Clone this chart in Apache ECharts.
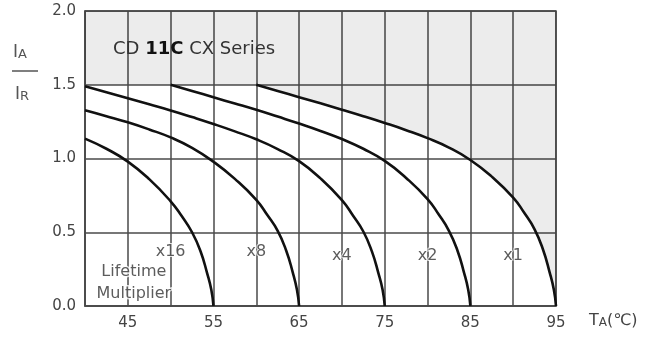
<!DOCTYPE html>
<html>
<head>
<meta charset="utf-8">
<script src="https://cdn.jsdelivr.net/npm/echarts@6/dist/echarts.min.js"></script>
<style>
html,body{margin:0;padding:0;background:#fff;}
#c{width:653px;height:337px;}
</style>
</head>
<body>
<div id="c"></div>
<script>
// ---- data ----
const xTicks = [40, 45, 50, 55, 60, 65, 70, 75, 80, 85, 90, 95];
const xLabelTicks = [45, 55, 65, 75, 85, 95];
const yTicks = [0, 0.5, 1.0, 1.5, 2.0];

const x1X = [60, 62.5, 65, 67.5, 70, 72.5, 75, 77.5, 80, 82.5, 85, 87.5, 90, 91.25, 92.5, 93.5, 94.25, 94.75, 95];
const x1Y = [1.5, 1.458, 1.416, 1.374, 1.331, 1.287, 1.241, 1.192, 1.138, 1.074, 0.99, 0.877, 0.735, 0.635, 0.52, 0.38, 0.23, 0.11, 0];

const x2X = [50, 52.5, 55, 57.5, 60, 62.5, 65, 67.5, 70, 72.5, 75, 77.5, 80, 81.25, 82.5, 83.5, 84.25, 84.75, 85];
const x2Y = [1.5, 1.458, 1.415, 1.373, 1.33, 1.284, 1.237, 1.187, 1.132, 1.066, 0.984, 0.868, 0.725, 0.625, 0.51, 0.375, 0.228, 0.11, 0];

const x4X = [40, 42.5, 45, 47.5, 50, 52.5, 55, 57.5, 60, 62.5, 65, 67.5, 70, 71.25, 72.5, 73.5, 74.25, 74.75, 75];
const x4Y = [1.49, 1.449, 1.408, 1.367, 1.326, 1.281, 1.234, 1.184, 1.13, 1.064, 0.982, 0.865, 0.718, 0.617, 0.505, 0.37, 0.225, 0.11, 0];

const x8X = [40, 42.5, 45, 47.5, 50, 52.5, 55, 57.5, 60, 61.25, 62.5, 63.5, 64.25, 64.75, 65];
const x8Y = [1.327, 1.287, 1.245, 1.197, 1.143, 1.072, 0.978, 0.862, 0.72, 0.62, 0.51, 0.375, 0.23, 0.11, 0];

const x16X = [40, 42.5, 45, 47.5, 50, 51.25, 52.5, 53.5, 54.25, 54.75, 55];
const x16Y = [1.135, 1.066, 0.979, 0.86, 0.71, 0.613, 0.5, 0.37, 0.225, 0.11, 0];

// fill boundary: rated region limit (flat at 1.5 left of the x1 curve)
const fillLeadX = [40];
const fillLeadY = [1.5];

const curveNames = ['x16', 'x8', 'x4', 'x2', 'x1'];
const curveLabelX = [50, 60, 70, 80, 90];
const curveLabelY = [0.365, 0.365, 0.34, 0.34, 0.34];

const titleText = ['CD ', '11C', ' CX Series'];
const noteLines = ['Lifetime', 'Multiplier'];
const noteX = [45.7, 45.7];
const noteY = [0.23, 0.085];

// ---- build ----
const zip = (xs, ys) => xs.map((x, i) => [x, ys[i]]);
const FONT = '"DejaVu Sans", sans-serif';
const GRID_C = '#4a4a4a';
const SMOOTH = 0.5;

const curves = [[x16X, x16Y], [x8X, x8Y], [x4X, x4Y], [x2X, x2Y], [x1X, x1Y]];

const series = [];
series.push({
  type: 'line',
  data: zip(fillLeadX.concat(x1X), fillLeadY.concat(x1Y)),
  smooth: SMOOTH,
  symbol: 'none',
  lineStyle: { width: 0 },
  areaStyle: { origin: 'end', color: 'rgba(0,0,0,0.105)' },
  silent: true,
  z: 1
});
curves.forEach(([xs, ys], i) => {
  series.push({
    type: 'line',
    name: curveNames[i],
    data: zip(xs, ys),
    smooth: SMOOTH,
    symbol: 'none',
    lineStyle: { color: '#111', width: 2.6 },
    silent: true,
    z: 3
  });
});
series.push({
  type: 'scatter',
  symbolSize: 0,
  data: curveLabelX.map((x, i) => ({ value: [x, curveLabelY[i]], name: curveNames[i] })),
  label: {
    show: true, position: 'inside', formatter: p => p.name,
    fontFamily: FONT, fontSize: 16, color: '#333',
    textBorderColor: '#fff', textBorderWidth: 2
  },
  silent: true,
  z: 4
});
series.push({
  type: 'scatter',
  symbolSize: 0,
  data: noteX.map((x, i) => ({ value: [x, noteY[i]], name: noteLines[i] })),
  label: {
    show: true, position: 'inside', formatter: p => p.name,
    fontFamily: FONT, fontSize: 16, color: '#333',
    textBorderColor: '#fff', textBorderWidth: 3
  },
  silent: true,
  z: 4
});

const chart = echarts.init(document.getElementById('c'), null, { renderer: 'canvas' });
chart.setOption({
  animation: false,
  backgroundColor: '#fff',
  grid: { left: 85, top: 11, width: 471, height: 295, show: true, borderColor: GRID_C, borderWidth: 1.5, backgroundColor: 'transparent' },
  xAxis: {
    type: 'value', min: xTicks[0], max: xTicks[xTicks.length - 1], interval: 5,
    axisLine: { show: true, lineStyle: { color: GRID_C, width: 1.5 } },
    axisTick: { show: false },
    splitLine: { show: true, lineStyle: { color: GRID_C, width: 1.5 } },
    axisLabel: {
      fontFamily: FONT, fontSize: 15, color: '#444', margin: 10,
      formatter: v => (xLabelTicks.indexOf(v) >= 0 ? String(v) : '')
    }
  },
  yAxis: {
    type: 'value', min: yTicks[0], max: yTicks[yTicks.length - 1], interval: 0.5,
    axisLine: { show: true, lineStyle: { color: GRID_C, width: 1.5 } },
    axisTick: { show: false },
    splitLine: { show: true, lineStyle: { color: GRID_C, width: 1.5 } },
    axisLabel: { fontFamily: FONT, fontSize: 15, color: '#444', margin: 9, formatter: v => v.toFixed(1) }
  },
  graphic: [
    {
      type: 'text', left: 113, top: 40, z: 10,
      style: {
        text: '{a|' + titleText[0] + '}{b|' + titleText[1] + '}{a|' + titleText[2] + '}',
        rich: {
          a: { fontFamily: FONT, fontSize: 18, fill: '#333' },
          b: { fontFamily: FONT, fontSize: 18, fontWeight: 'bold', fill: '#111' }
        }
      }
    },
    {
      type: 'text', left: 13, top: 44, z: 10,
      style: { text: '{i|I}{s|A}', rich: { i: { fontFamily: FONT, fontSize: 17, fill: '#555' }, s: { fontFamily: FONT, fontSize: 13, fill: '#555', padding: [4, 0, 0, 0] } } }
    },
    { type: 'line', shape: { x1: 12, y1: 71, x2: 38, y2: 71 }, style: { stroke: '#555', lineWidth: 1.5 }, z: 10 },
    {
      type: 'text', left: 15, top: 86, z: 10,
      style: { text: '{i|I}{s|R}', rich: { i: { fontFamily: FONT, fontSize: 17, fill: '#555' }, s: { fontFamily: FONT, fontSize: 13, fill: '#555', padding: [4, 0, 0, 0] } } }
    },
    {
      type: 'text', left: 589, top: 313, z: 10,
      style: { text: '{i|T}{s|A}{i|(℃)}', rich: { i: { fontFamily: FONT, fontSize: 16, fill: '#444' }, s: { fontFamily: FONT, fontSize: 12, fill: '#444', padding: [4, 0, 0, 0] } } }
    }
  ],
  series: series
});
</script>
</body>
</html>
